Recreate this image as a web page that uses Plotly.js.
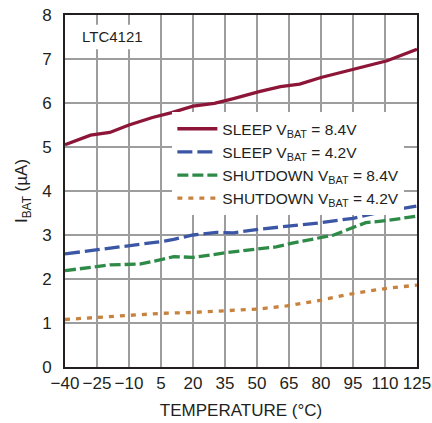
<!DOCTYPE html>
<html>
<head>
<meta charset="utf-8">
<script src="https://cdn.plot.ly/plotly-3.0.1.min.js"></script>
<style>
html,body{margin:0;padding:0;background:#fff;}
#chart{width:432px;height:423px;}
</style>
</head>
<body>
<div id="chart"></div>
<script>
// Temperature (°C) and I_BAT (µA)
var sleep84T = [-40,-28,-19,-10,1,10,20,30,39,51,61,70,80,97,111,125];
var sleep84I = [5.05,5.27,5.33,5.5,5.67,5.78,5.93,5.99,6.1,6.26,6.37,6.43,6.58,6.79,6.96,7.22];

var sleep42T = [-40,-25,-10,5,11,20,31,39,51,66,80,95,101,109,125];
var sleep42I = [2.57,2.66,2.75,2.85,2.9,3.0,3.06,3.05,3.13,3.21,3.28,3.38,3.44,3.53,3.66];

var shdn84T = [-40,-25,-19,-5,1,6,11,20,36,51,59,66,80,86,95,101,111,125];
var shdn84I = [2.19,2.28,2.32,2.34,2.39,2.45,2.51,2.49,2.60,2.68,2.73,2.81,2.94,3.0,3.17,3.28,3.33,3.43];

var shdn42T = [-40,-24,-10,5,20,36,51,64,80,95,111,125];
var shdn42I = [1.08,1.13,1.17,1.22,1.24,1.28,1.32,1.39,1.52,1.67,1.79,1.86];

var seriesNames = [
  'SLEEP V<sub>BAT</sub> = 8.4V',
  'SLEEP V<sub>BAT</sub> = 4.2V',
  'SHUTDOWN V<sub>BAT</sub> = 8.4V',
  'SHUTDOWN V<sub>BAT</sub> = 4.2V'
];

var xTickVals = [-40,-25,-10,5,20,35,50,65,80,95,110,125];
var xTickText = ['\u221240','\u221225','\u221210','5','20','35','50','65','80','95','110','125'];
var yTickVals = [0,1,2,3,4,5,6,7,8];

var FONT = '"Liberation Sans Narrow", "Arial Narrow", "Liberation Sans", Arial, sans-serif';
var TXT = '#231f20';

var traces = [
  {x: sleep84T, y: sleep84I, name: seriesNames[0], mode: 'lines',
   line: {color: '#8c1538', width: 3.3}},
  {x: sleep42T, y: sleep42I, name: seriesNames[1], mode: 'lines',
   line: {color: '#3a56a5', width: 3.3, dash: '15px,5px'}},
  {x: shdn84T, y: shdn84I, name: seriesNames[2], mode: 'lines',
   line: {color: '#2d8a47', width: 3.3, dash: '11px,4px'}},
  {x: shdn42T, y: shdn42I, name: seriesNames[3], mode: 'lines',
   line: {color: '#c8823f', width: 3.3, dash: '5px,6px'}}
];

var layout = {
  width: 432, height: 423,
  margin: {l: 65, r: 15, t: 15, b: 56},
  paper_bgcolor: '#fff', plot_bgcolor: '#fff',
  font: {family: FONT, color: TXT, size: 17},
  showlegend: true,
  legend: {
    x: 0.305, xanchor: 'left', y: 0.724, yanchor: 'top',
    bgcolor: '#fff', borderwidth: 0,
    font: {family: FONT, size: 15.5, color: TXT},
    itemwidth: 40, tracegroupgap: 0
  },
  xaxis: {
    range: [-40, 125], tickmode: 'array', tickvals: xTickVals, ticktext: xTickText,
    showgrid: true, gridcolor: '#9d9d9d', gridwidth: 1.5,
    showline: true, linecolor: '#231f20', linewidth: 2, mirror: true,
    ticks: '', zeroline: false,
    tickfont: {family: FONT, size: 17, color: TXT},
    title: {text: 'TEMPERATURE (°C)', font: {family: FONT, size: 17, color: TXT}, standoff: 12}
  },
  yaxis: {
    range: [0, 8], tickmode: 'array', tickvals: yTickVals,
    showgrid: true, gridcolor: '#9d9d9d', gridwidth: 1.5,
    showline: true, linecolor: '#231f20', linewidth: 2, mirror: true,
    ticks: '', zeroline: false, ticklabelstandoff: 8,
    tickfont: {family: FONT, size: 17, color: TXT},
    title: {text: 'I<sub>BAT</sub> (µA)', font: {family: FONT, size: 17, color: TXT}, standoff: 10}
  },
  shapes: [
    {type: 'rect', xref: 'paper', yref: 'paper', x0: 0.004, x1: 0.241, y0: 0.903, y1: 0.972,
     fillcolor: '#fff', line: {width: 0}, layer: 'above'}
  ],
  annotations: [
    {xref: 'paper', yref: 'paper', x: 0.043, y: 0.94, xanchor: 'left', yanchor: 'middle',
     text: 'LTC4121', showarrow: false, font: {family: FONT, size: 15, color: TXT}}
  ]
};

Plotly.newPlot('chart', traces, layout, {displayModeBar: false, staticPlot: true});
</script>
</body>
</html>
